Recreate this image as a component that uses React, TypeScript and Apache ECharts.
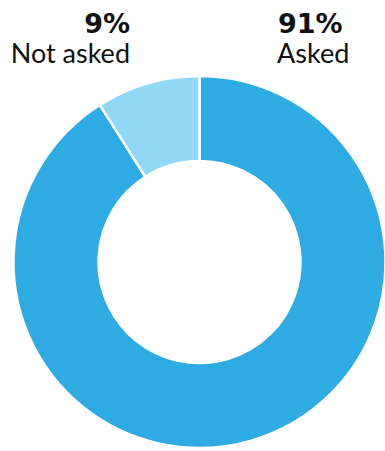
import React, { useEffect, useRef } from "react";
import * as echarts from "echarts";

const categories = ["Asked", "Not asked"];
const values = [91, 9];
const colors = ["#2eabe2", "#8fd8f6"];

export default function App() {
  const ref = useRef<HTMLDivElement>(null);
  useEffect(() => {
    document.body.style.margin = "0";
    const chart = echarts.init(ref.current!, null, { renderer: "svg" });
    const total = values.reduce((a, b) => a + b, 0);
    const pct = values.map((v) => Math.round((v / total) * 100) + "%");
    chart.setOption({
      animation: false,
      graphic: [
        { type: "text", left: 278, top: 10, style: { text: pct[0], font: "bold 27px 'DejaVu Sans'", fill: "#111" } },
        { type: "text", left: 277, top: 39, style: { text: categories[0], font: "27px Lato", fill: "#111" } },
        { type: "text", right: 255, top: 10, style: { text: pct[1], font: "bold 27px 'DejaVu Sans'", fill: "#111", align: "right" } },
        { type: "text", right: 255, top: 39, style: { text: categories[1], font: "27px Lato", fill: "#111", align: "right" } },
      ],
      series: [
        {
          type: "pie",
          center: [199.5, 262],
          radius: [101, 186],
          startAngle: 90,
          clockwise: true,
          label: { show: false },
          labelLine: { show: false },
          emphasis: { disabled: true },
          itemStyle: { borderColor: "#fff", borderWidth: 2.5 },
          data: categories.map((c, i) => ({ name: c, value: values[i], itemStyle: { color: colors[i] } })),
        },
      ],
    });
    return () => chart.dispose();
  }, []);
  return <div ref={ref} style={{ width: 385, height: 451 }} />;
}
